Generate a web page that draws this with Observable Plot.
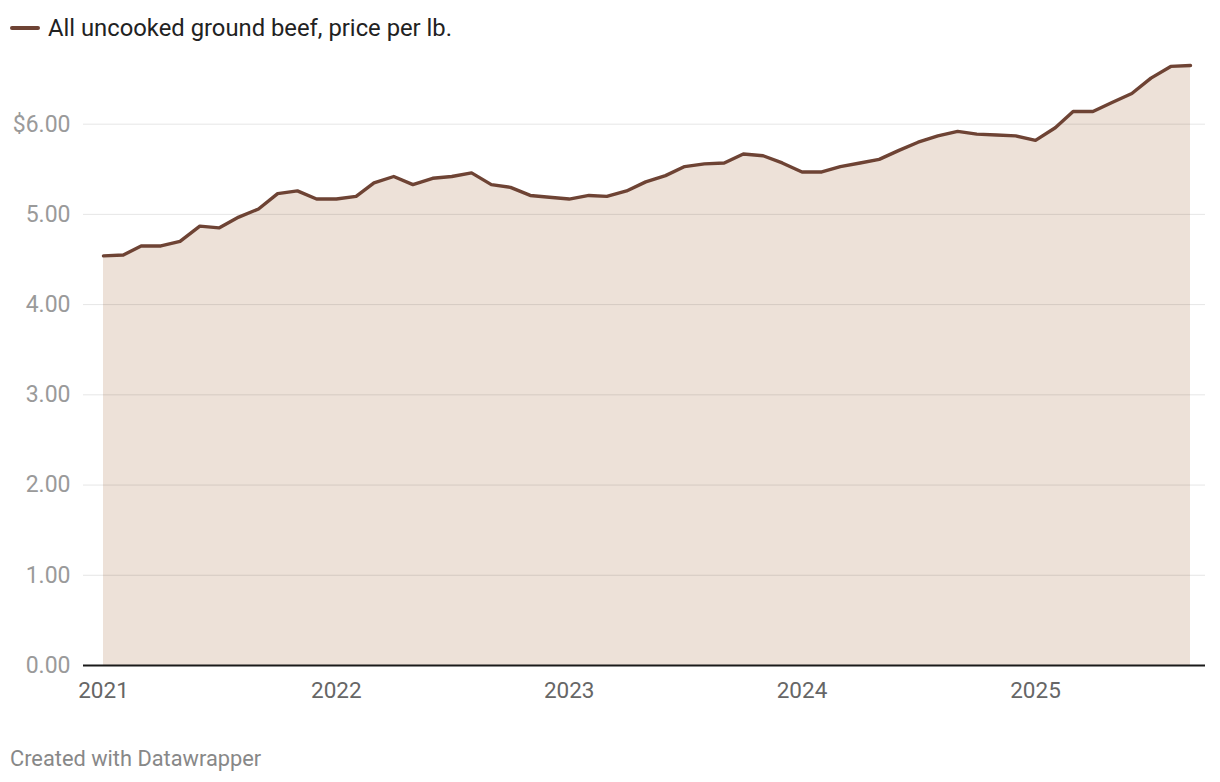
<!DOCTYPE html>
<html>
<head>
<meta charset="utf-8">
<script src="https://cdn.jsdelivr.net/npm/d3@7"></script>
<script src="https://cdn.jsdelivr.net/npm/@observablehq/plot@0.6"></script>
<style>
  html, body { margin: 0; padding: 0; background: #fff; }
  body { width: 1220px; height: 782px; font-family: Roboto, "Noto Sans", sans-serif; position: relative; overflow: hidden; }
  #legend { height: 56px; position: relative; }
  #legend .sw { position: absolute; left: 10px; top: 26px; width: 30px; height: 4px; border-radius: 2px; background: #6e4334; }
  #legend .lab { position: absolute; left: 48px; top: 13px; font-size: 23.8px; color: #222; line-height: 30px; }
  #footer { position: absolute; left: 10px; top: 745px; font-size: 21.8px; color: #888; line-height: 28px; }
  svg text { font-family: Roboto, sans-serif; }
</style>
</head>
<body>
<div id="legend"><div class="sw"></div><div class="lab">All uncooked ground beef, price per lb.</div></div>
<div id="chart"></div>
<div id="footer">Created with Datawrapper</div>
<script>
const seriesName = "All uncooked ground beef, price per lb.";
const startMonth = "2021-01";
const prices = [
  4.54, 4.55, 4.65, 4.65, 4.70, 4.87, 4.85, 4.97, 5.06, 5.23, 5.26, 5.17,
  5.17, 5.20, 5.35, 5.42, 5.33, 5.40, 5.42, 5.46, 5.33, 5.30, 5.21, 5.19,
  5.17, 5.21, 5.20, 5.26, 5.36, 5.43, 5.53, 5.56, 5.57, 5.67, 5.65, 5.57,
  5.47, 5.47, 5.53, 5.57, 5.61, 5.71, 5.80, 5.87, 5.92, 5.89, 5.88, 5.87,
  5.82, 5.96, 6.14, 6.14, 6.24, 6.34, 6.51, 6.64, 6.65
];
const yTicks = [0, 1, 2, 3, 4, 5, 6];
const xTickYears = [2021, 2022, 2023, 2024, 2025];

const start = new Date(startMonth + "-01T00:00:00");
const data = prices.map((v, i) => ({date: d3.timeMonth.offset(start, i), price: v}));
const xTicks = xTickYears.map(y => new Date(y, 0, 1));

const chart = Plot.plot({
  width: 1220,
  height: 650,
  marginLeft: 103,
  marginRight: 30,
  marginTop: 0,
  marginBottom: 41,
  style: {fontFamily: "Roboto, sans-serif", background: "transparent", overflow: "visible"},
  x: {type: "time", domain: [data[0].date, data[data.length - 1].date]},
  y: {domain: [0, 6.75]},
  marks: [
    Plot.areaY(data, {x: "date", y: "price", fill: "#ede1d8"}),
    Plot.ruleY(yTicks.filter(d => d > 0), {stroke: "#000", strokeOpacity: 0.1, strokeWidth: 1, insetLeft: -20, insetRight: -15}),
    Plot.lineY(data, {x: "date", y: "price", stroke: "#6e4334", strokeWidth: 3.4, strokeLinejoin: "round", strokeLinecap: "round"}),
    Plot.ruleY([0], {stroke: "#1a1a1a", strokeWidth: 2, insetLeft: -20, insetRight: -15}),
    Plot.axisY({ticks: yTicks, tickSize: 0, tickPadding: 33, fontSize: 23, fill: "#9a9a9a",
      tickFormat: d => (d === 6 ? "$" : "") + d.toFixed(2), label: null}),
    Plot.axisX({ticks: xTicks, tickSize: 0, tickPadding: 17, fontSize: 22.5, fill: "#666",
      tickFormat: d3.timeFormat("%Y"), label: null})
  ]
});
document.getElementById("chart").appendChild(chart);
</script>
</body>
</html>
